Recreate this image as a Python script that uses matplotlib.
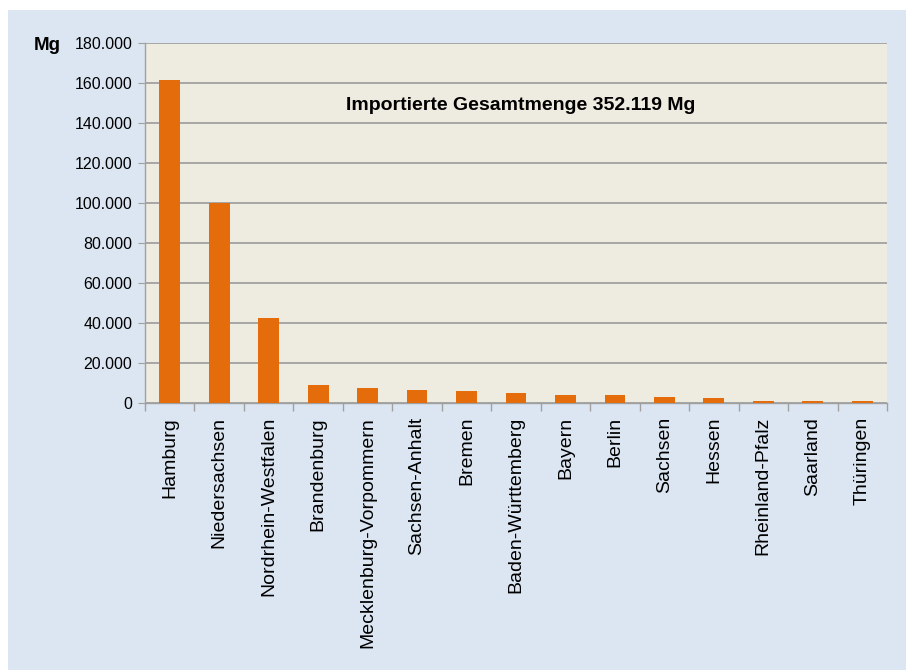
import matplotlib
matplotlib.use("Agg")
import matplotlib.pyplot as plt
from matplotlib.patches import Rectangle
from matplotlib.ticker import FuncFormatter, FixedLocator

plt.rcParams['font.family'] = ['Liberation Sans Narrow', 'Liberation Sans', 'DejaVu Sans']

laender = ["Hamburg", "Niedersachsen", "Nordrhein-Westfalen", "Brandenburg",
           "Mecklenburg-Vorpommern", "Sachsen-Anhalt", "Bremen",
           "Baden-Württemberg", "Bayern", "Berlin", "Sachsen", "Hessen",
           "Rheinland-Pfalz", "Saarland", "Thüringen"]
mengen = [161500, 100000, 42500, 8800, 7300, 6700, 5800,
          5200, 3800, 3800, 2800, 2300, 800, 800, 900]
y_ticks = [0, 20000, 40000, 60000, 80000, 100000, 120000, 140000, 160000, 180000]

fig = plt.figure(figsize=(9.06, 6.70), dpi=100, facecolor='white')
# light blue panel behind everything
fig.patches.append(Rectangle((8 / 906, 0), 1, 1 - 10 / 670, transform=fig.transFigure,
                             facecolor='#dce6f2', edgecolor='none', zorder=-1))

ax = fig.add_axes([145 / 906, 1 - 403 / 670, (887 - 145) / 906, (403 - 43) / 670])
ax.set_facecolor('#eeebe0')

x = range(len(laender))
ax.bar(x, mengen, width=0.42, color='#e46c0a', zorder=3)

ax.set_xlim(-0.5, len(laender) - 0.5)
ax.set_ylim(0, 180000)
ax.set_yticks(y_ticks)
ax.yaxis.set_major_formatter(FuncFormatter(lambda v, p: "0" if v == 0 else f"{int(v):,}".replace(",", ".")))
ax.grid(axis='y', color='#a0a0a0', linewidth=1.3, zorder=1)

ax.set_xticks(list(x))
ax.set_xticklabels(laender, rotation=90, fontsize=14)
ax.tick_params(axis='x', length=0, pad=10)
ax.xaxis.set_minor_locator(FixedLocator([i - 0.5 for i in range(len(laender) + 1)]))
ax.tick_params(axis='x', which='minor', length=6, color='#a0a0a0', width=1)
ax.tick_params(axis='y', labelsize=11.5, length=5, color='#a0a0a0', pad=4)

for side in ['top', 'right']:
    ax.spines[side].set_visible(False)
ax.spines['left'].set_color('#a0a0a0')
ax.spines['bottom'].set_color('#a0a0a0')
ax.spines['left'].set_linewidth(1)
ax.spines['bottom'].set_linewidth(1)

ax.text(0.506, 0.825, "Importierte Gesamtmenge 352.119 Mg", transform=ax.transAxes,
        ha='center', va='center', fontsize=14, fontweight='bold')
fig.text(47 / 906, 1 - 45 / 670, "Mg", ha='center', va='center', fontsize=13.5, fontweight='bold')

fig.savefig("out.png", dpi=100, facecolor=fig.get_facecolor())
